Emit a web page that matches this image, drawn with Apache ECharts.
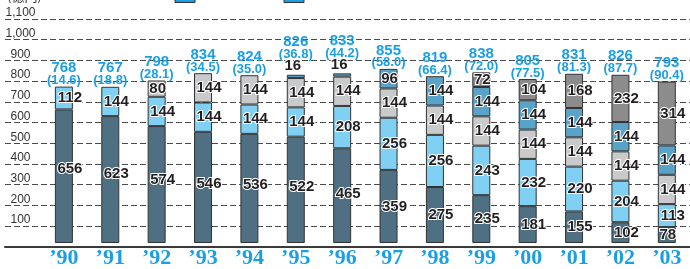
<!DOCTYPE html>
<html>
<head>
<meta charset="utf-8">
<script src="https://cdn.jsdelivr.net/npm/echarts@6/dist/echarts.min.js"></script>
<style>
  html, body { margin: 0; background: #fff; }
  #chart { width: 690px; height: 269px; }
</style>
</head>
<body>
<div id="chart"></div>
<script>
// values, bottom segment first
const years = ['’90', '’91', '’92', '’93', '’94', '’95', '’96', '’97', '’98', '’99', '’00', '’01', '’02', '’03'];
const seg1 = [656, 623, 574, 546, 536, 522, 465, 359, 275, 235, 181, 155, 102, 78];
const seg2 = [112, 144, 144, 144, 144, 144, 208, 256, 256, 243, 232, 220, 204, 113];
const seg3 = [0, 0, 80, 144, 144, 144, 144, 144, 144, 144, 144, 144, 144, 144];
const seg4 = [0, 0, 0, 0, 0, 16, 16, 96, 144, 144, 144, 144, 144, 144];
const seg5 = [0, 0, 0, 0, 0, 0, 0, 0, 0, 72, 104, 168, 232, 314];
const totals = [768, 767, 798, 834, 824, 826, 833, 855, 819, 838, 805, 831, 826, 793];
const shares = ['14.6', '18.8', '28.1', '34.5', '35.0', '36.8', '44.2', '58.0', '66.4', '72.0', '77.5', '81.3', '87.7', '90.4'];

const sans = "'Liberation Sans', Arial, sans-serif";
const blue = '#1a9fe6';
const colors = ['#4f6f82', '#7fd0f2', '#c9cacc', '#5aa3c8', '#8c8c8c'];

const chart = echarts.init(document.getElementById('chart'));

function segLabel() {
  return {
    show: true,
    position: 'inside',
    color: '#231f20',
    fontFamily: sans,
    fontWeight: 'bold',
    fontSize: 15,
    textBorderColor: '#fff',
    textBorderWidth: 2
  };
}

function buildSeries(values, idx) {
  const data = values.map((v) => {
    if (!v) return '-';
    const dx = String(v).length >= 3 ? 6 : 1;
    let dy = 0;
    // the tall bottom labels sit a little above the middle in the original
    if (idx === 0 && v > 400) dy = Math.round(-(v - 400) / 35);
    const item = { value: v, label: { offset: [dx, dy] } };
    if (v < 30) item.label = { position: 'top', distance: 1, offset: [-3, 0] };
    return item;
  });
  return {
    type: 'bar',
    name: 'seg' + (idx + 1),
    xAxisIndex: 1,
    yAxisIndex: 1,
    stack: 'total',
    barWidth: 18,
    itemStyle: { color: colors[idx], borderColor: '#333', borderWidth: 1 },
    label: segLabel(),
    data
  };
}

const series = [seg1, seg2, seg3, seg4, seg5].map(buildSeries);

// zero-height bar on top of each stack, carries the total label
series.push({
  type: 'bar',
  name: 'total',
  xAxisIndex: 1,
  yAxisIndex: 1,
  stack: 'total',
  barWidth: 18,
  silent: true,
  itemStyle: { color: 'transparent', borderWidth: 0 },
  label: {
    show: true,
    position: 'top',
    distance: 0,
    formatter: p => `{a|${totals[p.dataIndex]}}\n{b|(${shares[p.dataIndex]})}`,
    rich: {
      a: { color: blue, fontFamily: sans, fontWeight: 'bold', fontSize: 15, lineHeight: 13 },
      b: { color: blue, fontFamily: sans, fontWeight: 'bold', fontSize: 13, lineHeight: 12 }
    }
  },
  data: totals.map((t, i) => {
    const raised = seg4[i] > 0 && seg4[i] < 30;
    return raised ? { value: 0, label: { offset: [0, -14] } } : 0;
  })
});

chart.setOption({
  animation: false,
  backgroundColor: '#fff',
  grid: [
    { left: 5, right: 0, top: 19, bottom: 22.3 },
    { left: 40.7, width: 667, top: 19, bottom: 22.3 }
  ],
  xAxis: [
    {
      gridIndex: 0, type: 'value', min: 0, max: 1,
      axisLine: { show: true, lineStyle: { color: '#3a3a3a', width: 2 } },
      axisTick: { show: false }, axisLabel: { show: false }, splitLine: { show: false }
    },
    {
      gridIndex: 1, type: 'category', data: years,
      axisLine: { show: false }, axisTick: { show: false },
      axisLabel: {
        color: blue, fontFamily: "'Liberation Serif', 'DejaVu Serif', serif",
        fontWeight: 'bold', fontSize: 22, lineHeight: 22, margin: 4
      }
    }
  ],
  yAxis: [
    {
      gridIndex: 0, type: 'value', min: 0, max: 1100, interval: 100,
      axisLine: { show: false }, axisTick: { show: false },
      splitLine: { lineStyle: { type: [6, 3], color: '#4a4a4a', width: 1 } },
      axisLabel: {
        inside: true, margin: 15.5, align: 'center', verticalAlign: 'bottom',
        color: '#333', fontFamily: sans, fontSize: 12,
        formatter: v => (v === 0 ? '' : v.toLocaleString('en-US'))
      }
    },
    { gridIndex: 1, type: 'value', min: 0, max: 1100, interval: 100, show: false }
  ],
  graphic: [
    { type: 'text', left: 7, top: -10, style: { text: '(億円)', fill: '#333', font: "13px 'Noto Sans CJK JP', sans-serif" } },
    { type: 'rect', shape: { x: 175, y: -10, width: 20, height: 12.5 }, style: { fill: blue, stroke: '#333', lineWidth: 1 } },
    { type: 'rect', shape: { x: 284, y: -10, width: 20, height: 12.5 }, style: { fill: blue, stroke: '#333', lineWidth: 1 } }
  ],
  series
});
</script>
</body>
</html>
